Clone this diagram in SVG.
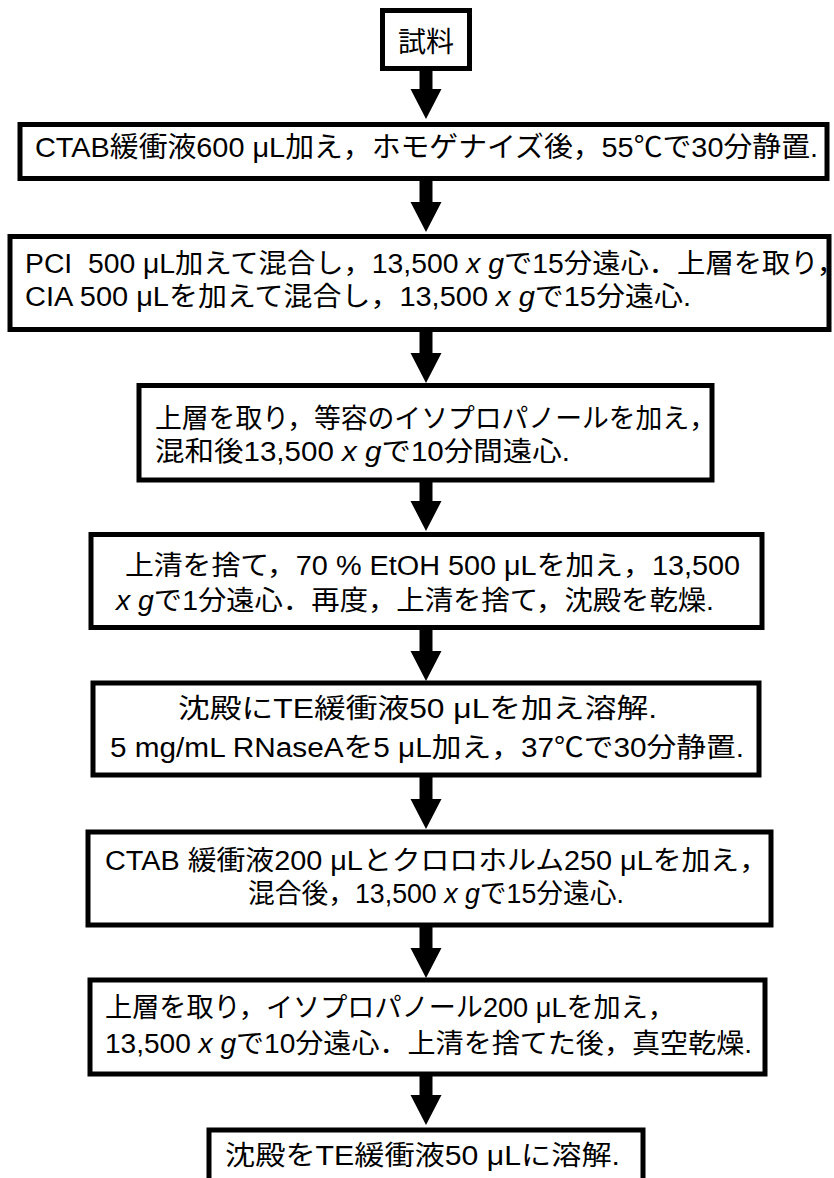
<svg xmlns="http://www.w3.org/2000/svg" width="834" height="1178" viewBox="0 0 834 1178">
<style>
.box{fill:#fff;stroke:#000;stroke-width:5}
.t{font-family:"Liberation Sans",Arial,"Noto Sans CJK JP",sans-serif;font-size:27px;fill:#000}
.arrow{fill:#000;stroke:none}
.i{font-style:italic}
</style>
<rect width="834" height="1178" fill="#fff"/>
<g id="connectors">
<path class="arrow" d="M419.5,70 H432.5 V89 H441.5 L426,119 L410.5,89 H419.5 Z"/>
<path class="arrow" d="M419.5,180 H432.5 V202 H441.5 L426,232 L410.5,202 H419.5 Z"/>
<path class="arrow" d="M419.5,331 H432.5 V353 H441.5 L426,383 L410.5,353 H419.5 Z"/>
<path class="arrow" d="M419.5,481 H432.5 V501 H441.5 L426,531 L410.5,501 H419.5 Z"/>
<path class="arrow" d="M419.5,629 H432.5 V651 H441.5 L426,681 L410.5,651 H419.5 Z"/>
<path class="arrow" d="M419.5,777 H432.5 V799 H441.5 L426,829 L410.5,799 H419.5 Z"/>
<path class="arrow" d="M419.5,926 H432.5 V948 H441.5 L426,978 L410.5,948 H419.5 Z"/>
<path class="arrow" d="M419.5,1075 H432.5 V1095 H441.5 L426,1125 L410.5,1095 H419.5 Z"/>
</g>
<g id="n1">
<rect class="box" x="382.5" y="10.5" width="87" height="58"/>
<text class="t" x="426" y="52" text-anchor="middle" style="font-size:28px">試料</text>
</g>
<g id="n2">
<rect class="box" x="20" y="124.5" width="807" height="54"/>
<text class="t" x="35" y="157" style="font-size:28px" textLength="783" lengthAdjust="spacingAndGlyphs">CTAB緩衝液600 μL加え，ホモゲナイズ後，55℃で30分静置.</text>
</g>
<g id="n3">
<rect class="box" x="10" y="236.5" width="819" height="93"/>
<text class="t" x="25" y="273" textLength="820" lengthAdjust="spacingAndGlyphs">PCI&#160; 500 μL加えて混合し，13,500 <tspan class="i">x g</tspan>で15分遠心．上層を取り，</text>
<text class="t" x="25" y="306" textLength="666" lengthAdjust="spacingAndGlyphs">CIA 500 μLを加えて混合し，13,500 <tspan class="i">x g</tspan>で15分遠心.</text>
</g>
<g id="n4">
<rect class="box" x="139" y="385.5" width="573" height="94.5"/>
<text class="t" x="155" y="428" textLength="561" lengthAdjust="spacingAndGlyphs">上層を取り，等容のイソプロパノールを加え，</text>
<text class="t" x="155" y="461" textLength="415" lengthAdjust="spacingAndGlyphs">混和後13,500 <tspan class="i">x g</tspan>で10分間遠心.</text>
</g>
<g id="n5">
<rect class="box" x="91" y="534.5" width="671" height="93"/>
<text class="t" x="125" y="575" textLength="615" lengthAdjust="spacingAndGlyphs">上清を捨て，70 % EtOH 500 μLを加え，13,500</text>
<text class="t" x="116" y="610" textLength="598" lengthAdjust="spacingAndGlyphs"><tspan class="i">x g</tspan>で1分遠心．再度，上清を捨て，沈殿を乾燥.</text>
</g>
<g id="n6">
<rect class="box" x="93" y="683" width="666" height="92"/>
<text class="t" x="178" y="718" textLength="479" lengthAdjust="spacingAndGlyphs">沈殿にTE緩衝液50 μLを加え溶解.</text>
<text class="t" x="110" y="757" textLength="634" lengthAdjust="spacingAndGlyphs">5 mg/mL RNaseAを5 μL加え，37℃で30分静置.</text>
</g>
<g id="n7">
<rect class="box" x="88" y="832" width="683" height="93"/>
<text class="t" x="105" y="870" textLength="663" lengthAdjust="spacingAndGlyphs">CTAB 緩衝液200 μLとクロロホルム250 μLを加え，</text>
<text class="t" x="248" y="903" textLength="376" lengthAdjust="spacingAndGlyphs">混合後，13,500 <tspan class="i">x g</tspan>で15分遠心.</text>
</g>
<g id="n8">
<rect class="box" x="90" y="980" width="675" height="94"/>
<text class="t" x="105" y="1017" textLength="570" lengthAdjust="spacingAndGlyphs">上層を取り，イソプロパノール200 μLを加え，</text>
<text class="t" x="105" y="1053" textLength="647" lengthAdjust="spacingAndGlyphs">13,500 <tspan class="i">x g</tspan>で10分遠心．上清を捨てた後，真空乾燥.</text>
</g>
<g id="n9">
<rect class="box" x="209" y="1130" width="434" height="80"/>
<text class="t" x="225" y="1165" textLength="395" lengthAdjust="spacingAndGlyphs">沈殿をTE緩衝液50 μLに溶解.</text>
</g>
</svg>
